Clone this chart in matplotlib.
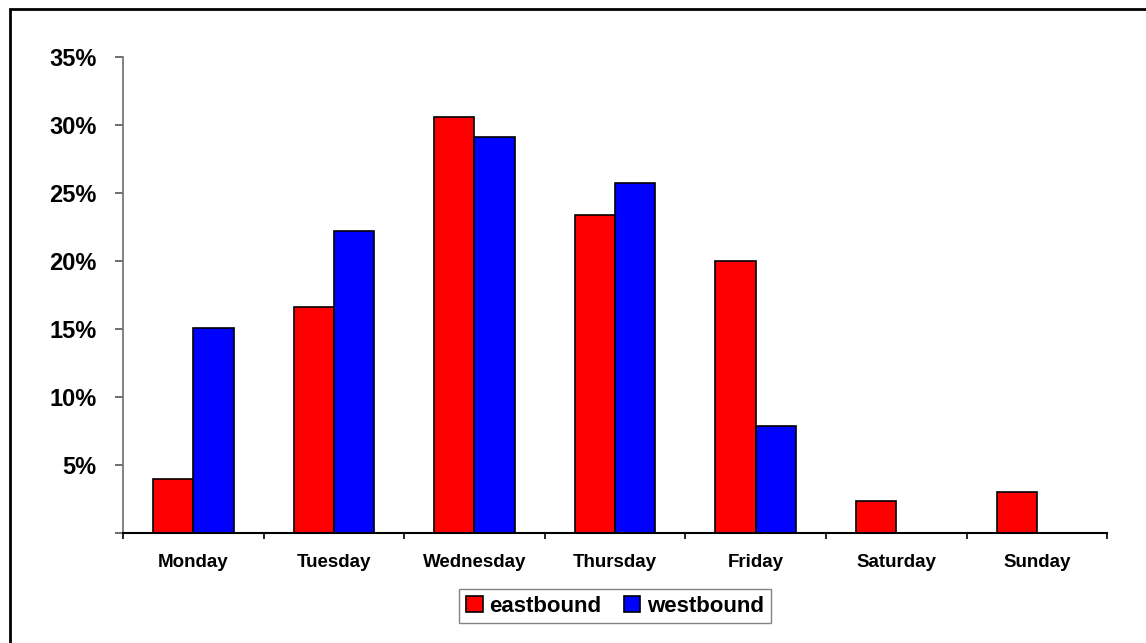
import matplotlib.pyplot as plt
import numpy as np
from matplotlib.patches import Rectangle
from matplotlib.ticker import FuncFormatter

days = ['Monday', 'Tuesday', 'Wednesday', 'Thursday', 'Friday', 'Saturday', 'Sunday']
eastbound = [4.0, 16.6, 30.6, 23.4, 20.0, 2.4, 3.0]
westbound = [15.1, 22.2, 29.1, 25.7, 7.9, 0, 0]

plt.rcParams['font.family'] = ['Liberation Sans', 'DejaVu Sans']
plt.rcParams['font.weight'] = 'bold'

fig = plt.figure(figsize=(11.46, 6.43), dpi=100)
ax = fig.add_axes([0.1073, 0.1706, 0.8588, 0.7412])

x = np.arange(len(days))
w = 0.287
ax.bar(x - w / 2, eastbound, w, color='#ff0000', edgecolor='black', linewidth=1.2, label='eastbound')
west_x = [xi + w / 2 for xi, v in zip(x, westbound) if v > 0]
west_v = [v for v in westbound if v > 0]
ax.bar(west_x, west_v, w, color='#0000ff', edgecolor='black', linewidth=1.2, label='westbound')

ax.set_xlim(-0.5, len(days) - 0.5)
ax.set_ylim(0, 35)
ax.set_yticks(np.arange(0, 36, 5))
ax.yaxis.set_major_formatter(FuncFormatter(lambda v, p: '' if v == 0 else f'{v:.0f}%'))
ax.set_xticks(x)
ax.set_xticklabels(days, fontsize=13.5, fontweight='bold')
ax.set_xticks(np.arange(-0.5, len(days), 1), minor=True)
ax.tick_params(axis='x', which='major', length=0, pad=15)
ax.tick_params(axis='x', which='minor', length=4.5, width=1.2, direction='out')
ax.tick_params(axis='y', length=6, width=1.2, colors='#555555', labelcolor='black',
               labelsize=17, pad=13)
for lbl in ax.get_yticklabels():
    lbl.set_fontweight('bold')

ax.spines['top'].set_visible(False)
ax.spines['right'].set_visible(False)
ax.spines['left'].set_color('#777777')
ax.spines['left'].set_linewidth(1.3)
ax.spines['bottom'].set_linewidth(1.5)

fig.legend(loc='center', bbox_to_anchor=(0.5366, 0.0575), ncol=2, frameon=True,
           fancybox=False, edgecolor='#666666', prop={'weight': 'bold', 'size': 16},
           handlelength=0.75, handleheight=0.75, handletextpad=0.3, columnspacing=1.0,
           borderpad=0.3, borderaxespad=0)

fig.patches.append(Rectangle((10 / 1146, -0.1), 1.2, 1 - 9 / 643 + 0.1, transform=fig.transFigure,
                             fill=False, edgecolor='black', linewidth=2, zorder=0))

plt.savefig('out.png', dpi=100)
